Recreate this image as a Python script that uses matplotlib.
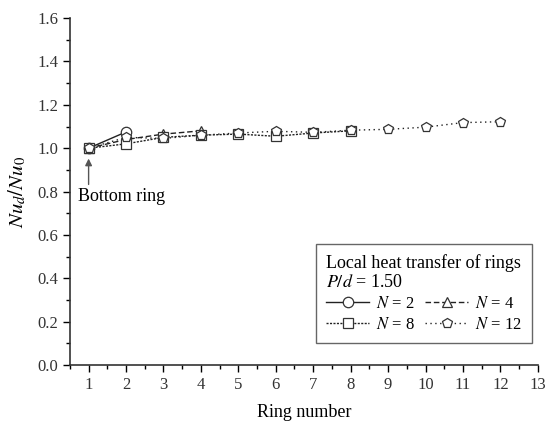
import matplotlib
matplotlib.use("Agg")
import matplotlib.pyplot as plt
from matplotlib.ticker import MultipleLocator

plt.rcParams["font.family"] = ["Liberation Serif", "DejaVu Serif"]
plt.rcParams["mathtext.fontset"] = "stix"

# ring numbers and Nu_d/Nu_0 for each number of rings N
rings_2 = [1, 2]
nu_2 = [1.0, 1.075]
rings_4 = [1, 2, 3, 4]
nu_4 = [1.0, 1.04, 1.065, 1.08]
rings_8 = [1, 2, 3, 4, 5, 6, 7, 8]
nu_8 = [1.0, 1.02, 1.05, 1.06, 1.065, 1.055, 1.07, 1.08]
rings_12 = [1, 2, 3, 4, 5, 6, 7, 8, 9, 10, 11, 12]
nu_12 = [1.0, 1.05, 1.045, 1.06, 1.07, 1.078, 1.073, 1.083, 1.087, 1.097, 1.118, 1.122]

fig = plt.figure(figsize=(5.46, 4.21), dpi=100)
ax = fig.add_axes([0.128, 0.133, 0.857, 0.824])

mk = dict(markerfacecolor="white", markeredgecolor="#333333", markersize=7.5,
          markeredgewidth=0.9, color="#222222", linewidth=1.0)
l2, = ax.plot(rings_2, nu_2, "-", marker="o", label="$N$ = 2", **mk)
l4, = ax.plot(rings_4, nu_4, linestyle=(0, (4, 2)), marker="^", label="$N$ = 4", **mk)
l8, = ax.plot(rings_8, nu_8, linestyle=(0, (1.5, 1)), marker="s", label="$N$ = 8", **mk)
l12, = ax.plot(rings_12, nu_12, linestyle=(0, (1, 2.5)), marker="p", label="$N$ = 12", **mk)

ax.set_xlim(0.5, 13)
ax.set_ylim(0, 1.6)
ax.xaxis.set_major_locator(MultipleLocator(1))
ax.xaxis.set_minor_locator(MultipleLocator(0.5))
ax.yaxis.set_major_locator(MultipleLocator(0.2))
ax.yaxis.set_minor_locator(MultipleLocator(0.1))
ax.set_yticklabels([f"{v:.1f}" for v in ax.get_yticks()])
ax.tick_params(which="major", direction="out", length=5, width=1, labelsize=12,
               labelcolor="#333333")
ax.tick_params(which="minor", direction="out", length=3, width=1)
for s in ["top", "right"]:
    ax.spines[s].set_visible(False)
for s in ["left", "bottom"]:
    ax.spines[s].set_linewidth(1.2)
    ax.spines[s].set_color("#333333")

ax.set_xlabel("Ring number", fontsize=13, labelpad=8)
ax.set_ylabel("$Nu_d/Nu_0$", fontsize=15, labelpad=6)

ax.annotate("", xy=(1, 0.965), xytext=(1, 0.82),
            arrowprops=dict(arrowstyle="-|>", color="#555555", lw=1, mutation_scale=10))
ax.text(0.72, 0.775, "Bottom ring", fontsize=13, va="center", ha="left")

# column-major fill: order so rows read N=2, N=4 / N=8, N=12
leg = ax.legend([l2, l8, l4, l12], ["$N$ = 2", "$N$ = 8", "$N$ = 4", "$N$ = 12"],
                ncol=2, loc="lower right", bbox_to_anchor=(0.987, 0.063), borderaxespad=0,
                title="Local heat transfer of rings\n$P/d$ = 1.50", title_fontsize=13,
                fontsize=12, fancybox=False, edgecolor="#666666", framealpha=1,
                handlelength=2.6, columnspacing=0.6, handletextpad=0.4,
                borderpad=0.6, labelspacing=0.3)
leg._legend_box.align = "left"

fig.savefig("out.png", dpi=100)
